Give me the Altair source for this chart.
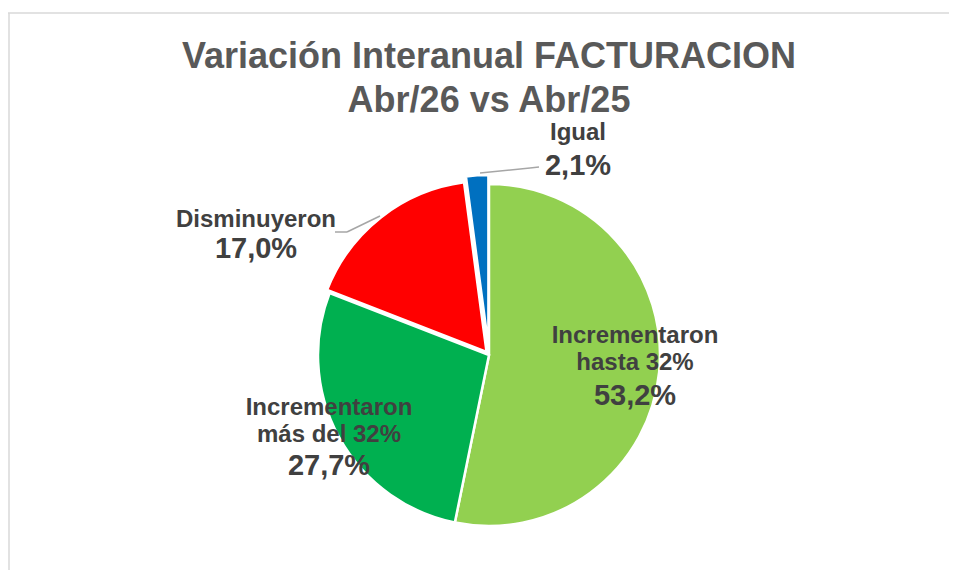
import math
import altair as alt
import pandas as pd

# ---------------- data ----------------
categories = ["Incrementaron hasta 32%", "Incrementaron más del 32%", "Disminuyeron", "Igual"]
label_lines = ["Incrementaron\nhasta 32%", "Incrementaron\nmás del 32%", "Disminuyeron", "Igual"]
shares = [53.2, 27.7, 17.0, 2.1]
colors = ["#92D050", "#00B050", "#FF0000", "#0070C0"]
title_lines = ["Variación Interanual FACTURACION", "Abr/26 vs Abr/25"]

# ---------------- layout (pixels, view coordinates = page - 8) ----------------
FONT = "Liberation Sans"
W, H = 941, 562
CX, CY, R = 481, 347, 171      # pie centre and radius
explode = {"Igual": 9, "Disminuyeron": 4}
# label anchor: (x centre, first name baseline, percentage baseline)
label_pos = {
    "Incrementaron hasta 32%": (627, 335, 397),
    "Incrementaron más del 32%": (321, 407, 467),
    "Disminuyeron": (248, 219, 250),
    "Igual": (570, 132, 167),
}
title_pos = (481, 60, 44)      # x centre, first baseline, line height
# leader line segments (x, y, x2, y2)
leaders = [
    (472, 165, 522, 160), (522, 160, 531, 159),
    (327, 224, 339, 224), (339, 224, 372, 208),
]
frame = [(-3, 5, 960, 5), (1, 5, 1, 580)]

df = pd.DataFrame({
    "cat": categories,
    "label": label_lines,
    "value": shares,
    "order": list(range(len(categories))),
})
df["pct"] = [f"{v:.1f}".replace(".", ",") + "%" for v in shares]

lab = df.copy()
lab["lx"] = [label_pos[c][0] for c in categories]
lab["ly"] = [label_pos[c][1] for c in categories]
lab["py"] = [label_pos[c][2] for c in categories]

ttl = pd.DataFrame({"text": title_lines})
ttl["x"] = title_pos[0]
ttl["y"] = [title_pos[1] + i * title_pos[2] for i in range(len(title_lines))]

seg = pd.DataFrame(leaders, columns=["x", "y", "x2", "y2"])
fr = pd.DataFrame(frame, columns=["x", "y", "x2", "y2"])

ex_expr = " : ".join(f"datum.cat === '{k}' ? {v}" for k, v in explode.items()) + " : 0"

pie = (
    alt.Chart(df)
    .transform_window(cum="sum(value)", sort=[alt.SortField("order")], frame=[None, 0])
    .transform_calculate(start="datum.cum - datum.value", end="datum.cum")
    .transform_calculate(ex=ex_expr,
                         mid="(datum.start + datum.end) / 200 * 2 * PI")
    .transform_calculate(px=f"{CX} + datum.ex * sin(datum.mid)",
                         py=f"{CY} - datum.ex * cos(datum.mid)")
    .mark_arc(outerRadius=R, stroke="white", strokeWidth=2.5)
    .encode(
        theta=alt.Theta("start:Q", scale=alt.Scale(domain=[0, 100], range=[0, 2 * math.pi])),
        theta2="end:Q",
        x=alt.X("px:Q", scale=None),
        y=alt.Y("py:Q", scale=None),
        color=alt.Color("cat:N", scale=alt.Scale(domain=categories, range=colors), legend=None),
        order=alt.Order("order:Q"),
    )
)

lead = alt.Chart(seg).mark_rule(color="#A6A6A6", strokeWidth=1.5).encode(
    x=alt.X("x:Q", scale=None), y=alt.Y("y:Q", scale=None),
    x2="x2:Q", y2="y2:Q",
)
border = alt.Chart(fr).mark_rule(color="#D9D9D9", strokeWidth=1.5).encode(
    x=alt.X("x:Q", scale=None), y=alt.Y("y:Q", scale=None),
    x2="x2:Q", y2="y2:Q",
)

title = alt.Chart(ttl).mark_text(
    align="center", baseline="alphabetic",
    font=FONT, fontSize=36, fontWeight="bold", color="#595959",
).encode(x=alt.X("x:Q", scale=None), y=alt.Y("y:Q", scale=None), text="text:N")

names = alt.Chart(lab).mark_text(
    align="center", baseline="alphabetic", lineBreak="\n", lineHeight=27,
    font=FONT, fontSize=24, fontWeight="bold", color="#404040",
).encode(x=alt.X("lx:Q", scale=None), y=alt.Y("ly:Q", scale=None), text="label:N")

pcts = alt.Chart(lab).mark_text(
    align="center", baseline="alphabetic",
    font=FONT, fontSize=29, fontWeight="bold", color="#404040",
).encode(x=alt.X("lx:Q", scale=None), y=alt.Y("py:Q", scale=None), text="pct:N")

chart = (
    alt.layer(border, pie, lead, title, names, pcts)
    .properties(
        width=W, height=H,
        padding={"left": 0, "top": 0, "right": 0, "bottom": 0},
        autosize=alt.AutoSizeParams(type="none"),
    )
    .configure(background="white")
    .configure_view(strokeWidth=0, strokeOpacity=0)
)

chart.save("out.html", embed_options={"renderer": "svg", "actions": False})
